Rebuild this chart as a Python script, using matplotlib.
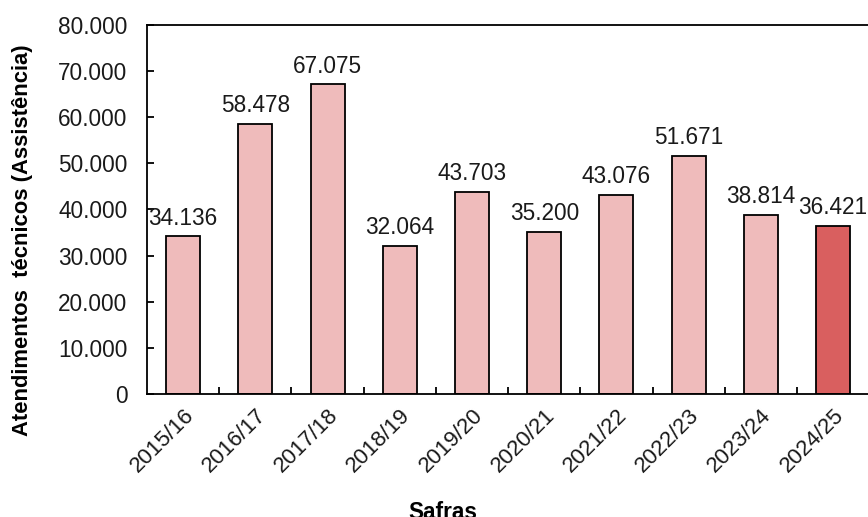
import matplotlib.pyplot as plt
from matplotlib.ticker import FuncFormatter, MultipleLocator

plt.rcParams['font.family'] = ['Liberation Sans', 'DejaVu Sans']

safras = ["2015/16", "2016/17", "2017/18", "2018/19", "2019/20",
          "2020/21", "2021/22", "2022/23", "2023/24", "2024/25"]
atendimentos = [34136, 58478, 67075, 32064, 43703,
                35200, 43076, 51671, 38814, 36421]

light = "#efbbbb"
dark = "#d95f5f"
colors = [light] * (len(safras) - 1) + [dark]


def fmt_thousands(v, pos=None):
    if v == 0:
        return "0"
    return f"{v:,.0f}".replace(",", ".")


fig = plt.figure(figsize=(8.68, 5.17), dpi=100)
ax = fig.add_axes([0.1694, 0.238, 0.832, 0.714])

x = list(range(len(safras)))
bars = ax.bar(x, atendimentos, width=0.47, color=colors,
              edgecolor="black", linewidth=1.3, zorder=2)

for xi, v in zip(x, atendimentos):
    ax.text(xi, v + 1500, fmt_thousands(v), ha="center", va="bottom",
            fontsize=16.3, color="#1a1a1a")

ax.set_xlim(-0.5, len(safras) - 0.5)
ax.set_ylim(0, 80000)
ax.yaxis.set_major_locator(MultipleLocator(10000))
ax.yaxis.set_major_formatter(FuncFormatter(fmt_thousands))

# category labels without ticks, separators as inward ticks between bars
ax.set_xticks(x)
ax.set_xticklabels(safras, rotation=45, ha="right", rotation_mode="anchor",
                   fontsize=16)
ax.set_xticks([i + 0.5 for i in x[:-1]], minor=True)
ax.tick_params(axis="x", which="major", length=0, pad=8)
ax.tick_params(axis="x", which="minor", direction="in", length=5, width=1.3)
ax.tick_params(axis="y", direction="in", length=5, width=1.3,
               labelsize=16.3, pad=14, labelcolor="#1a1a1a")
ax.tick_params(axis="x", labelcolor="#1a1a1a")

for side in ["left", "bottom", "top", "right"]:
    ax.spines[side].set_linewidth(1.3)

ax.set_ylabel("Atendimentos  técnicos (Assistência)", fontsize=15.8,
              fontweight="bold")
ax.yaxis.set_label_coords(-0.158, 0.417)
ax.set_xlabel("Safras", fontsize=16.3, fontweight="bold")
ax.xaxis.set_label_coords(0.41, -0.291)

fig.savefig("out.png", dpi=100)
